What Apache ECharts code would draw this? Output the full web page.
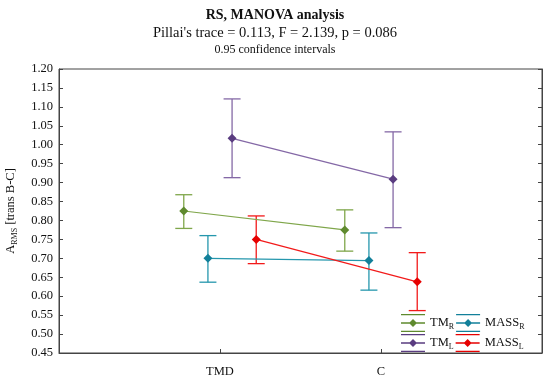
<!DOCTYPE html>
<html>
<head>
<meta charset="utf-8">
<script src="https://cdn.jsdelivr.net/npm/echarts@6/dist/echarts.min.js"></script>
<style>html,body{margin:0;padding:0;background:#fff}#c{width:550px;height:380px}</style>
</head>
<body>
<div id="c"></div>
<script>
// ---- data ----
var categories = ['TMD', 'C'];
var seriesNames = ['TMR', 'TML', 'MASSR', 'MASSL'];
var tmR_mean = [0.825, 0.775];
var tmR_low  = [0.779, 0.719];
var tmR_high = [0.868, 0.828];
var tmL_mean = [1.017, 0.909];
var tmL_low  = [0.913, 0.781];
var tmL_high = [1.121, 1.034];
var massR_mean = [0.700, 0.694];
var massR_low  = [0.637, 0.616];
var massR_high = [0.760, 0.767];
var massL_mean = [0.750, 0.638];
var massL_low  = [0.686, 0.562];
var massL_high = [0.812, 0.715];
var yTicks = [0.45, 0.50, 0.55, 0.60, 0.65, 0.70, 0.75, 0.80, 0.85, 0.90, 0.95, 1.00, 1.05, 1.10, 1.15, 1.20];

// ---- style ----
var FONT = 'Liberation Serif';
var offsets = { TMR: -0.225, MASSR: -0.075, TML: 0.075, MASSL: 0.225 };
var lineColors = { TMR: '#7fa64a', TML: '#8468a6', MASSR: '#2597ad', MASSL: '#f21a1a' };
var markColors = { TMR: '#5f8a2e', TML: '#5a3c80', MASSR: '#12809a', MASSL: '#e60000' };
var groups = {
  TMR: [tmR_mean, tmR_low, tmR_high],
  TML: [tmL_mean, tmL_low, tmL_high],
  MASSR: [massR_mean, massR_low, massR_high],
  MASSL: [massL_mean, massL_low, massL_high]
};
var labelMap = { TMR: ['TM', 'R'], TML: ['TM', 'L'], MASSR: ['MASS', 'R'], MASSL: ['MASS', 'L'] };

var series = [];
seriesNames.forEach(function (nm) {
  var g = groups[nm];
  var off = offsets[nm];
  series.push({
    name: nm,
    type: 'line',
    data: categories.map(function (c, i) { return [i + 1 + off, g[0][i]]; }),
    symbol: 'diamond',
    symbolSize: 9,
    lineStyle: { color: lineColors[nm], width: 1.2 },
    itemStyle: { color: markColors[nm] },
    z: 3,
    animation: false
  });
  series.push({
    name: nm,
    type: 'custom',
    data: categories.map(function (c, i) { return [i + 1 + off, g[1][i], g[2][i]]; }),
    renderItem: function (params, api) {
      var x = api.value(0);
      var lo = api.coord([x, api.value(1)]);
      var hi = api.coord([x, api.value(2)]);
      var hw = 8.5;
      var st = { stroke: lineColors[nm], lineWidth: 1.3 };
      return {
        type: 'group',
        children: [
          { type: 'line', shape: { x1: lo[0], y1: lo[1], x2: hi[0], y2: hi[1] }, style: st },
          { type: 'line', shape: { x1: lo[0] - hw, y1: lo[1], x2: lo[0] + hw, y2: lo[1] }, style: st },
          { type: 'line', shape: { x1: hi[0] - hw, y1: hi[1], x2: hi[0] + hw, y2: hi[1] }, style: st }
        ]
      };
    },
    z: 2,
    animation: false
  });
});

var chart = echarts.init(document.getElementById('c'), null, { renderer: 'canvas' });
var legendIcon = 'path://M0,0H24V1.3H0Z M0,8.35H24V9.65H0Z M0,16.7H24V18H0Z M12,5L16,9L12,13L8,9Z';
chart.setOption({
  backgroundColor: '#fff',
  animation: false,
  title: [
    { text: 'RS, MANOVA analysis', left: 'center', top: 3,
      textStyle: { fontFamily: FONT, fontSize: 14, fontWeight: 'bold', color: '#111' } },
    { text: "Pillai's trace = 0.113, F = 2.139, p = 0.086", left: 'center', top: 21,
      textStyle: { fontFamily: FONT, fontSize: 14.5, fontWeight: 'normal', color: '#111' } },
    { text: '0.95 confidence intervals', left: 'center', top: 39,
      textStyle: { fontFamily: FONT, fontSize: 12, fontWeight: 'normal', color: '#111' } }
  ],
  grid: { left: 59, right: 8, top: 69, bottom: 27, show: true, borderColor: '#444', borderWidth: 1,
          containLabel: false, outerBoundsMode: 'none' },
  legend: {
    data: ['TMR', 'MASSR', 'TML', 'MASSL'],
    left: 396, top: 309, width: 150,
    orient: 'horizontal',
    itemWidth: 24, itemHeight: 18, itemGap: 2,
    icon: legendIcon,
    selectedMode: false,
    formatter: function (name) { var p = labelMap[name]; return '{n|' + p[0] + '}{s|' + p[1] + '}'; },
    textStyle: {
      width: 34,
      fontFamily: FONT, color: '#111',
      rich: {
        n: { fontFamily: FONT, fontSize: 12.5, lineHeight: 16, verticalAlign: 'middle', color: '#111' },
        s: { fontFamily: FONT, fontSize: 8, lineHeight: 8, verticalAlign: 'bottom', color: '#111' }
      }
    }
  },
  xAxis: {
    type: 'value', min: 0, max: 3, interval: 1,
    splitLine: { show: false },
    axisLine: { lineStyle: { color: '#444', width: 1 } },
    axisTick: { inside: true, length: 4, lineStyle: { color: '#444' }, customValues: [1, 2] },
    axisLabel: {
      customValues: [1, 2], margin: 12,
      formatter: function (v) { return categories[Math.round(v) - 1] || ''; },
      fontFamily: FONT, fontSize: 12.5, color: '#111'
    }
  },
  yAxis: [{
    type: 'value', min: yTicks[0], max: yTicks[yTicks.length - 1], interval: 0.05,
    splitLine: { show: false },
    axisLine: { show: true, lineStyle: { color: '#444', width: 1 } },
    axisTick: { show: true, inside: true, length: 4, lineStyle: { color: '#444' } },
    axisLabel: { formatter: function (v) { return v.toFixed(2); }, fontFamily: FONT, fontSize: 12.5, color: '#111', margin: 6 },
    name: '{n|A}{s|RMS}{n| [trans B-C]}',
    nameLocation: 'middle', nameRotate: 90, nameGap: 40,
    nameTextStyle: {
      rich: {
        n: { fontFamily: FONT, fontSize: 12.5, lineHeight: 16, verticalAlign: 'middle', color: '#111' },
        s: { fontFamily: FONT, fontSize: 8, lineHeight: 8, verticalAlign: 'bottom', color: '#111' }
      }
    }
  }, {
    type: 'value', position: 'right', min: yTicks[0], max: yTicks[yTicks.length - 1], interval: 0.05,
    splitLine: { show: false },
    axisLine: { show: true, lineStyle: { color: '#444', width: 1 } },
    axisTick: { show: true, inside: true, length: 4, lineStyle: { color: '#444' } },
    axisLabel: { show: false }
  }],
  series: series
});
</script>
</body>
</html>
